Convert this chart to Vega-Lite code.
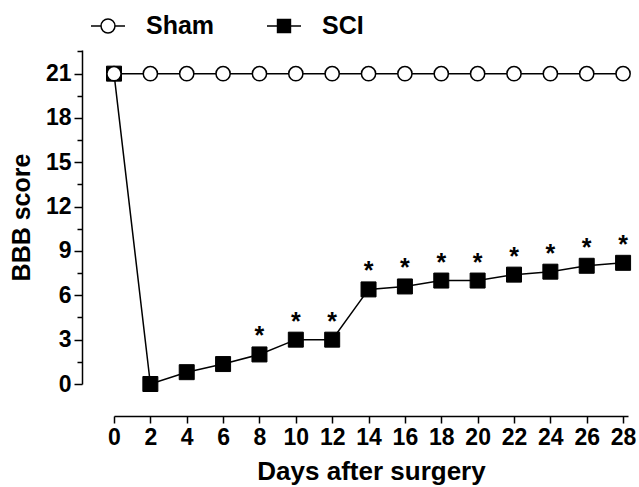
{
  "$schema": "https://vega.github.io/schema/vega-lite/v6.json",
  "autosize": "none",
  "padding": {"left": 114, "top": 50, "right": 11, "bottom": 103},
  "width": 514,
  "height": 334,
  "data": {"values": [
    {"day": 0, "score": 21, "group": "Sham", "sig": ""},
    {"day": 2, "score": 21, "group": "Sham", "sig": ""},
    {"day": 4, "score": 21, "group": "Sham", "sig": ""},
    {"day": 6, "score": 21, "group": "Sham", "sig": ""},
    {"day": 8, "score": 21, "group": "Sham", "sig": ""},
    {"day": 10, "score": 21, "group": "Sham", "sig": ""},
    {"day": 12, "score": 21, "group": "Sham", "sig": ""},
    {"day": 14, "score": 21, "group": "Sham", "sig": ""},
    {"day": 16, "score": 21, "group": "Sham", "sig": ""},
    {"day": 18, "score": 21, "group": "Sham", "sig": ""},
    {"day": 20, "score": 21, "group": "Sham", "sig": ""},
    {"day": 22, "score": 21, "group": "Sham", "sig": ""},
    {"day": 24, "score": 21, "group": "Sham", "sig": ""},
    {"day": 26, "score": 21, "group": "Sham", "sig": ""},
    {"day": 28, "score": 21, "group": "Sham", "sig": ""},
    {"day": 0, "score": 21, "group": "SCI", "sig": ""},
    {"day": 2, "score": 0, "group": "SCI", "sig": ""},
    {"day": 4, "score": 0.8, "group": "SCI", "sig": ""},
    {"day": 6, "score": 1.35, "group": "SCI", "sig": ""},
    {"day": 8, "score": 2, "group": "SCI", "sig": "*"},
    {"day": 10, "score": 3, "group": "SCI", "sig": "*"},
    {"day": 12, "score": 3, "group": "SCI", "sig": "*"},
    {"day": 14, "score": 6.4, "group": "SCI", "sig": "*"},
    {"day": 16, "score": 6.6, "group": "SCI", "sig": "*"},
    {"day": 18, "score": 7, "group": "SCI", "sig": "*"},
    {"day": 20, "score": 7, "group": "SCI", "sig": "*"},
    {"day": 22, "score": 7.4, "group": "SCI", "sig": "*"},
    {"day": 24, "score": 7.6, "group": "SCI", "sig": "*"},
    {"day": 26, "score": 8, "group": "SCI", "sig": "*"},
    {"day": 28, "score": 8.2, "group": "SCI", "sig": "*"}
  ]},
  "encoding": {
    "x": {
      "field": "day", "type": "quantitative",
      "scale": {"domain": [0, 28.27], "nice": false, "zero": false},
      "axis": {
        "title": "Days after surgery",
        "offset": 32,
        "values": [0, 2, 4, 6, 8, 10, 12, 14, 16, 18, 20, 22, 24, 26, 28],
        "tickSize": 7,
        "labelPadding": 3,
        "titlePadding": 9,
        "titleFontSize": 26,
        "labelFlush": false,
        "labelOverlap": false
      }
    },
    "y": {
      "field": "score", "type": "quantitative",
      "scale": {"domain": [0, 22.6], "nice": false},
      "axis": {
        "title": "BBB score",
        "offset": 32,
        "values": [0, 1.5, 3, 4.5, 6, 7.5, 9, 10.5, 12, 13.5, 15, 16.5, 18, 19.5, 21, 22.5],
        "labelExpr": "datum.value % 3 === 0 ? datum.label : ''",
        "tickSize": {"condition": {"test": "datum.value % 3 === 0", "value": 8}, "value": 5},
        "labelPadding": 3,
        "titlePadding": 11,
        "titleFontSize": 25,
        "labelFlush": false,
        "labelOverlap": false
      }
    }
  },
  "layer": [
    {
      "mark": {"type": "line", "color": "black", "strokeWidth": 1.5},
      "encoding": {"detail": {"field": "group"}}
    },
    {
      "transform": [{"filter": "datum.group === 'SCI'"}],
      "mark": {"type": "point", "shape": "square", "size": 225, "filled": true, "fill": "black", "stroke": "black", "strokeWidth": 1, "opacity": 1}
    },
    {
      "transform": [{"filter": "datum.group === 'Sham'"}],
      "mark": {"type": "point", "shape": "circle", "size": 201, "filled": true, "fill": "white", "stroke": "black", "strokeWidth": 1.5, "opacity": 1}
    },
    {
      "transform": [{"filter": "datum.sig === '*'"}],
      "mark": {"type": "text", "fontSize": 25, "fontWeight": "bold", "baseline": "alphabetic", "dy": -10, "color": "black"},
      "encoding": {"text": {"field": "sig"}}
    },
    {
      "mark": {"type": "point", "strokeWidth": 1.5, "opacity": 0},
      "encoding": {
        "shape": {
          "field": "group", "type": "nominal",
          "scale": {"domain": ["Sham", "SCI"], "range": ["M-1,0H-0.41A0.41,0.41,0,1,1,0.41,0A0.41,0.41,0,1,1,-0.41,0M0.41,0H1", "M-1,0H-0.38M0.38,0H1M-0.38,-0.38H0.38V0.38H-0.38Z"]},
          "legend": {"title": null, "orient": "none", "legendX": -24, "legendY": -42, "direction": "horizontal", "symbolSize": 1156, "symbolStrokeWidth": 1.5, "symbolOpacity": 1, "labelFontSize": 25, "labelFontWeight": "bold", "labelFont": "Liberation Sans", "labelColor": "black", "labelOffset": 20, "columnPadding": 49, "padding": 0}
        },
        "fill": {
          "field": "group", "type": "nominal",
          "scale": {"domain": ["Sham", "SCI"], "range": ["white", "black"]},
          "legend": {"title": null, "orient": "none", "legendX": -24, "legendY": -42, "direction": "horizontal", "symbolSize": 1156, "symbolStrokeWidth": 1.5, "symbolOpacity": 1, "labelFontSize": 25, "labelFontWeight": "bold", "labelFont": "Liberation Sans", "labelColor": "black", "labelOffset": 20, "columnPadding": 49, "padding": 0}
        },
        "stroke": {
          "field": "group", "type": "nominal",
          "scale": {"domain": ["Sham", "SCI"], "range": ["black", "black"]},
          "legend": {"title": null, "orient": "none", "legendX": -24, "legendY": -42, "direction": "horizontal", "symbolSize": 1156, "symbolStrokeWidth": 1.5, "symbolOpacity": 1, "labelFontSize": 25, "labelFontWeight": "bold", "labelFont": "Liberation Sans", "labelColor": "black", "labelOffset": 20, "columnPadding": 49, "padding": 0}
        }
      }
    }
  ],
  "config": {
    "font": "Liberation Sans",
    "view": {"stroke": null},
    "axis": {
      "grid": false,
      "labelFont": "Liberation Sans",
      "labelFontSize": 23,
      "labelFontWeight": "bold",
      "labelColor": "black",
      "titleFont": "Liberation Sans",
      "titleFontSize": 24,
      "titleFontWeight": "bold",
      "titleColor": "black",
      "domainColor": "black",
      "domainWidth": 1.5,
      "tickColor": "black",
      "tickWidth": 1.5
    }
  }
}
